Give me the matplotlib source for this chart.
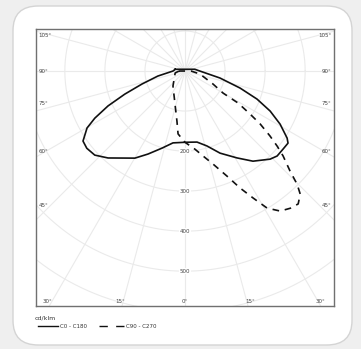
import numpy as np
import matplotlib.pyplot as plt
from matplotlib.patches import FancyBboxPatch

# gamma angle (deg from nadir) and intensity in cd/klm
gamma_c0 = [0, 9.6, 16.3, 23.1, 30.9, 37, 44, 47.3, 51.5, 55, 56.7, 60.8,
            64.8, 68.7, 72.8, 78.7, 90, 100]
inten_c0 = [178, 180, 195, 223, 253, 282, 306, 313, 313, 314, 305, 272,
            235, 193, 144, 89, 37, 25]
gamma_c180 = [0, 9.5, 16.6, 24, 29.9, 41.5, 47, 51.8, 55.5, 59.8, 62.4,
              65.6, 69, 73.2, 79.5, 90, 100]
inten_c180 = [178, 182, 201, 227, 251, 290, 308, 312, 309, 283, 254,
              211, 161, 112, 69, 30, 25]

gamma_c90 = [0, 7.3, 12, 16.8, 21.8, 25.2, 28.2, 30.9, 34.2, 37.5, 40.4,
             43.1, 44.7, 46.4, 49.1, 50.8, 52.6, 54.8, 56.5, 58.9, 59.9,
             65.1, 78.7, 90]
inten_c90 = [178, 197, 217, 243, 283, 323, 360, 399, 423, 432, 436,
             421, 398, 362, 324, 297, 267, 230, 195, 155, 110,
             77, 38, 15]
gamma_c270 = [0, 6.3, 9.1, 16.9, 38.7, 79, 90]
inten_c270 = [178, 158, 127, 86, 48, 25, 15]

rings = [100, 200, 300, 400, 500, 600, 700]
ring_labels = [200, 300, 400, 500]
side_angles = [105, 90, 75, 60, 45]
side_y = [88, 0, -82, -200, -337]
bottom_labels = ["30°", "15°", "0°", "15°", "30°"]
bottom_x = [-355, -162, 0, 162, 350]


def to_xy(gam, inten, side):
    g = np.radians(np.array(gam, dtype=float))
    r = np.array(inten, dtype=float)
    return side * r * np.sin(g), -r * np.cos(g)


def curve(g_right, i_right, g_left, i_left):
    xr, yr = to_xy(g_right, i_right, 1)
    xl, yl = to_xy(g_left, i_left, -1)
    x = np.concatenate([xl[::-1], xr, xl[-1:]])
    y = np.concatenate([yl[::-1], yr, yl[-1:]])
    return x, y


fig = plt.figure(figsize=(3.61, 3.49), dpi=100)
fig.patch.set_facecolor("#efefef")

# rounded white card behind everything
card = FancyBboxPatch((13 / 361, 4 / 349), 339 / 361, 339 / 349,
                      boxstyle="round,pad=0,rounding_size=0.07",
                      transform=fig.transFigure, facecolor="white",
                      edgecolor="#d4d4d4", linewidth=1.0, zorder=-10)
fig.patches.append(card)

ax = fig.add_axes([36 / 361, 1 - 306 / 349, 298 / 361, 277 / 349])
ax.set_xlim(-372, 372)
ax.set_ylim(-692 + 105, 105)
ax.set_aspect("auto")
ax.set_xticks([])
ax.set_yticks([])
for s in ax.spines.values():
    s.set_color("#707070")
    s.set_linewidth(1.0)

# grid
t = np.linspace(0, 2 * np.pi, 400)
for r in rings:
    ax.plot(r * np.cos(t), r * np.sin(t), color="#eaeaea", lw=0.8, zorder=1)
for a in range(0, 360, 15):
    ang = np.radians(a)
    ax.plot([0, 900 * np.sin(ang)], [0, -900 * np.cos(ang)],
            color="#eaeaea", lw=0.8, zorder=1)

x1, y1 = curve(gamma_c0, inten_c0, gamma_c180, inten_c180)
ax.plot(x1, y1, color="#111111", lw=1.2, zorder=3, solid_joinstyle="round")
x2, y2 = curve(gamma_c90, inten_c90, gamma_c270, inten_c270)
ax.plot(x2, y2, color="#111111", lw=1.2, ls=(0, (4, 3.5)), zorder=3)

for v in ring_labels:
    ax.text(0, -v, str(v), fontsize=4, color="#444444", ha="center",
            va="center", zorder=4,
            bbox=dict(facecolor="white", edgecolor="none", pad=0.3))
for a, y in zip(side_angles, side_y):
    ax.text(-365, y, f"{a}°", fontsize=4, color="#444444", ha="left", va="center")
    ax.text(365, y, f"{a}°", fontsize=4, color="#444444", ha="right", va="center")
for lab, x in zip(bottom_labels, bottom_x):
    ha = "left" if x < -300 else ("right" if x > 300 else "center")
    ax.text(x, -575, lab, fontsize=4, color="#444444", ha=ha, va="center")

# legend under the box
fig.text(35 / 361, 1 - 318 / 349, "cd/klm", fontsize=4.5, color="#333333", va="center")
fig.add_artist(plt.Line2D([38 / 361, 58 / 361], [1 - 326 / 349] * 2,
                          color="#111111", lw=1.0, transform=fig.transFigure))
fig.text(60 / 361, 1 - 326 / 349, "C0 - C180", fontsize=4, color="#333333", va="center")
fig.add_artist(plt.Line2D([99 / 361, 125 / 361], [1 - 326 / 349] * 2,
                          color="#111111", lw=1.0, ls=(0, (6, 6)),
                          transform=fig.transFigure))
fig.text(126 / 361, 1 - 326 / 349, "C90 - C270", fontsize=4, color="#333333", va="center")

fig.savefig("out.png", dpi=100, facecolor=fig.get_facecolor())
